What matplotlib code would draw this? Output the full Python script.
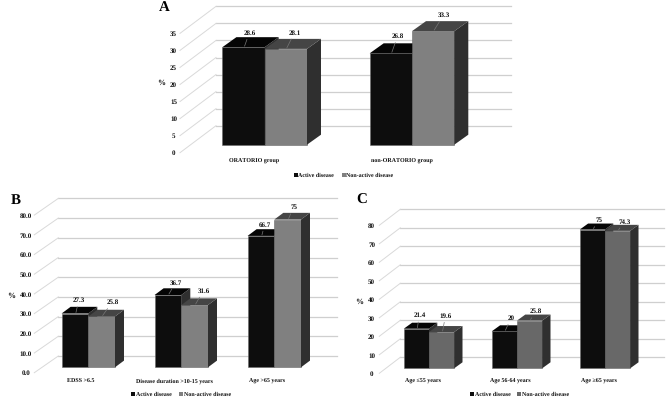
from matplotlib import pyplot as plt
import numpy as np

plt.rcParams['font.family'] = ['Liberation Serif', 'DejaVu Serif']
plt.rcParams['font.weight'] = 'bold'
plt.rcParams['text.hinting'] = 'no_hinting'
plt.rcParams['text.hinting_factor'] = 1

W, H = 669, 402

series = ['Active disease', 'Non-active disease']

cats_a = ['ORATORIO group', 'non-ORATORIO group']
active_a = [28.6, 26.8]
nonactive_a = [28.1, 33.3]
ticks_a = [0, 5, 10, 15, 20, 25, 30, 35]

cats_b = ['EDSS >6.5', 'Disease duration >10-15 years', 'Age >65 years']
active_b = [27.3, 36.7, 66.7]
nonactive_b = [25.8, 31.6, 75]
ticks_b = [0, 10, 20, 30, 40, 50, 60, 70, 80]

cats_c = ['Age ≤55 years', 'Age 56-64 years', 'Age ≥65 years']
active_c = [21.4, 20, 75]
nonactive_c = [19.6, 25.8, 74.3]
ticks_c = [0, 10, 20, 30, 40, 50, 60, 70, 80]

fig = plt.figure(figsize=(W / 100, H / 100), dpi=100)


def panel(letter, letter_xy, cats, active, nonactive, ticks, fmt, rect, x0, spacing, width,
          base, ys, depth, wall, tick_x, pct_xy, cat_y, cat_shift, legend_y, legend_x,
          off_active, off_nonactive, color2, fs):
    L, T, R, B = rect
    ax = fig.add_axes([L / W, 1 - B / H, (R - L) / W, (B - T) / H])
    ax.set_xlim((L - x0) / spacing, (R - x0) / spacing)
    ax.set_ylim((base - B) / ys, (base - T) / ys)
    ax.axis('off')

    px = lambda p: (p - x0) / spacing
    py = lambda p: (base - p) / ys
    # back wall and the slanted side lines
    front_x, back_x, right_x, front0, back0 = wall
    for v in ticks:
        yb = back0 - v * ys
        yf = front0 - v * ys
        ax.plot([px(back_x), px(right_x)], [py(yb), py(yb)], color='#cfcfcf', lw=0.9, zorder=1)
        ax.plot([px(front_x), px(back_x)], [py(yf), py(yb)], color='#d9d9d9', lw=0.7, zorder=1)
        ax.text(px(tick_x), py(yf), fmt % v, ha='center', va='center', fontsize=fs + 0.4, color='#111111')

    ddx = depth[0] / spacing
    ddy = depth[1] / ys
    bw = width / spacing
    pos = np.arange(len(cats))
    for i in pos:
        for off, vals, front, top, offs in [(-bw, active, '#0d0d0d', '#050505', off_active),
                                            (0, nonactive, color2, '#454545', off_nonactive)]:
            v = vals[i]
            ax.bar(i + off, v, bw, align='edge', color=front, edgecolor='#6a6a6a', linewidth=0.4, zorder=3)
            xl, xr = i + off, i + off + bw
            ax.fill([xr, xr + ddx, xr + ddx, xr], [0, ddy, v + ddy, v], color='#2f2f2f', lw=0, zorder=3)
            ax.fill([xl, xl + ddx, xr + ddx, xr], [v, v + ddy, v + ddy, v], color=top, lw=0, zorder=3)
            ax.annotate(f'{v:g}', xy=(i + off + bw / 2 + 1 / spacing, v + 1 / ys),
                        xytext=offs[i], textcoords='offset pixels', ha='center', va='center',
                        fontsize=fs + 0.6, color='#111111', zorder=5,
                        arrowprops=dict(arrowstyle='-', color='#777777', lw=0.5, shrinkA=1, shrinkB=0))
        ax.text(i + cat_shift / spacing, py(cat_y), cats[i], ha='center', va='center', fontsize=fs, color='#111111')

    ax.text(px(pct_xy[0]), py(pct_xy[1]), '%', ha='center', va='center', fontsize=fs + 1.5, color='#111111')

    # legend drawn by hand to sit under the bars
    for name, c, lx in zip(series, ['#0d0d0d', color2], legend_x):
        ax.plot([px(lx)], [py(legend_y)], 's', ms=2.3, color=c, mew=0)
        ax.text(px(lx + 3), py(legend_y), name, ha='left', va='center', fontsize=fs, color='#111111')

    fig.text(letter_xy[0] / W, 1 - letter_xy[1] / H, letter, ha='center', va='center',
             fontsize=11, color='black')


panel('A', (164, 7), cats_a, active_a, nonactive_a, ticks_a, '%d',
      (140, 0, 520, 185), 264.7, 147.3, 42.3, 145.7, 3.41, (14, 10),
      (180, 216, 510.5, 153.7, 126.7), 173.5, (161, 83), 161.3, -10.5,
      175.7, (295.5, 343.5),
      [(5, 14), (6, 17)], [(8, 16), (10, 16)], '#808080', 4.3)

panel('B', (15.7, 200), cats_b, active_b, nonactive_b, ticks_b, '%.1f',
      (0, 190, 340, 402), 88.3, 93, 26.7, 368.3, 1.97, (9, 6.7),
      (34.3, 58.3, 336.7, 373.7, 357), 26, (10.7, 296), 381.4, -7.3,
      395, (133, 180.7),
      [(3, 13), (7, 12), (3, 11)], [(10, 14), (8, 14), (5, 12)], '#808080', 4.3)

panel('C', (361.7, 200), cats_c, active_c, nonactive_c, ticks_c, '%d',
      (345, 190, 669, 402), 429, 88, 25.2, 369.3, 1.85, (8.3, 6),
      (379.3, 400.3, 664, 374.3, 358.3), 371.7, (359.3, 301.7), 381.7, -6.2,
      395, (471.5, 519),
      [(2, 13), (6, 13), (6, 9)], [(3, 16), (5, 9), (6, 9)], '#686868', 4.3)

plt.savefig('out.png', dpi=100)
